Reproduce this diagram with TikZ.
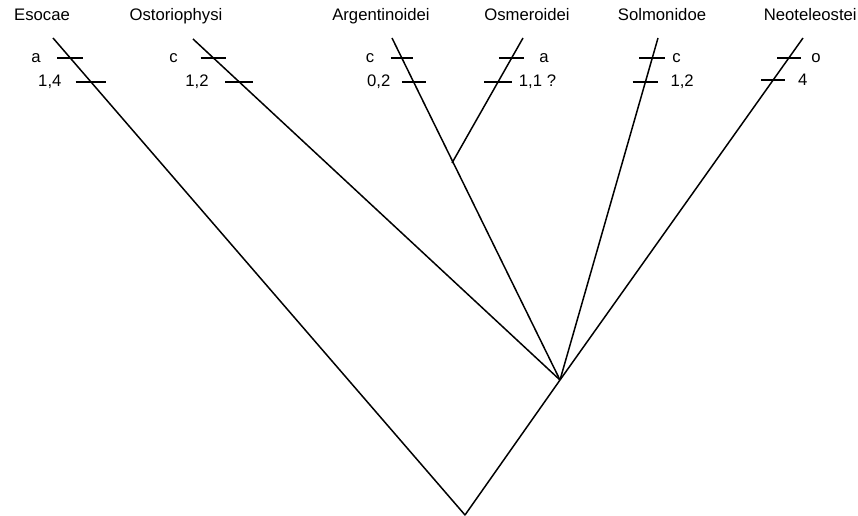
\documentclass[tikz,border=0pt]{standalone}
\usepackage{fontspec}
\setmainfont{Liberation Sans}
\usetikzlibrary{calc}
\tikzset{
  taxonnode/.style={anchor=base,inner sep=0pt},
  tickmark/.style={minimum width=0.5cm,minimum height=0pt,inner sep=0pt,
    every label/.style={inner sep=1pt}},
  branchline/.style={line width=0.85pt,line join=round}
}

\begin{document}
\begin{tikzpicture}[x=0.02cm,y=-0.02cm,font=\fontsize{9.5}{11}\selectfont]
  \useasboundingbox (0,0) rectangle (858,516);
  % tips, junctions and root
  \coordinate (root) at (465,515);
  \coordinate (poly) at (560,380);
  \coordinate (jao) at (452,163);
  \coordinate (tEso) at (53,38);
  \coordinate (tOst) at (193,39);
  \coordinate (tArg) at (392,38);
  \coordinate (tOsm) at (523,38);
  \coordinate (tSal) at (658,38);
  \coordinate (tNeo) at (803,38);
  % taxa
  \node[taxonnode] (nEso) at (42,21) {Esocae};
  \node[taxonnode] (nOst) at (176,21) {Ostoriophysi};
  \node[taxonnode] (nArg) at (381,21) {Argentinoidei};
  \node[taxonnode] (nOsm) at (527,21) {Osmeroidei};
  \node[taxonnode] (nSal) at (662,21) {Solmonidoe};
  \node[taxonnode,anchor=base east] (nNeo) at (857,21) {Neoteleostei};
  % branches
  \draw[branchline] (tEso) -- (root) -- (poly);
  \draw[branchline] (tOst) -- (poly);
  \draw[branchline] (tArg) -- (poly);
  \draw[branchline] (tOsm) -- (jao);
  \draw[branchline] (tSal) -- (poly);
  \draw[branchline] (tNeo) -- (poly);
  % character ticks
  \node[tickmark,label={[label distance=6pt]left:a}] (kEso1) at ($(tEso)!0.042!(root)$) {};
  \node[tickmark,minimum width=0.6cm,label={[label distance=4.5pt]left:1,4}] (kEso2) at ($(tEso)!0.092!(root)$) {};
  \node[tickmark,label={[label distance=9.5pt]left:c}] (kOst1) at ($(tOst)!0.056!(poly)$) {};
  \node[tickmark,minimum width=0.54cm,label={[label distance=6pt]left:1,2}] (kOst2) at ($(tOst)!0.126!(poly)$) {};
  \node[tickmark,minimum width=0.42cm,label={[label distance=6pt]left:c}] (kArg1) at ($(tArg)!0.058!(poly)$) {};
  \node[tickmark,minimum width=0.46cm,label={[label distance=3pt]left:0,2}] (kArg2) at ($(tArg)!0.129!(poly)$) {};
  \node[tickmark,label={[label distance=5pt]right:a}] (kOsm1) at ($(tOsm)!0.16!(jao)$) {};
  \node[tickmark,minimum width=0.54cm,label={[label distance=0.5pt]right:1,1 ?}] (kOsm2) at ($(tOsm)!0.352!(jao)$) {};
  \node[tickmark,label={[label distance=0.5pt]right:c}] (kSal1) at ($(tSal)!0.058!(poly)$) {};
  \node[tickmark,label={[label distance=3.5pt]right:1,2}] (kSal2) at ($(tSal)!0.129!(poly)$) {};
  \node[tickmark,minimum width=0.46cm,label={[label distance=2.5pt]right:o}] (kNeo1) at ($(tNeo)!0.058!(poly)$) {};
  \node[tickmark,minimum width=0.46cm,label={[label distance=4pt]right:4}] (kNeo2) at ($(tNeo)!0.123!(poly)$) {};
  \foreach \k in {kEso1,kEso2,kOst1,kOst2,kArg1,kArg2,kOsm1,kOsm2,kSal1,kSal2,kNeo1,kNeo2}
    \draw[branchline,line width=1pt] (\k.west) -- (\k.east);
\end{tikzpicture}
\end{document}
